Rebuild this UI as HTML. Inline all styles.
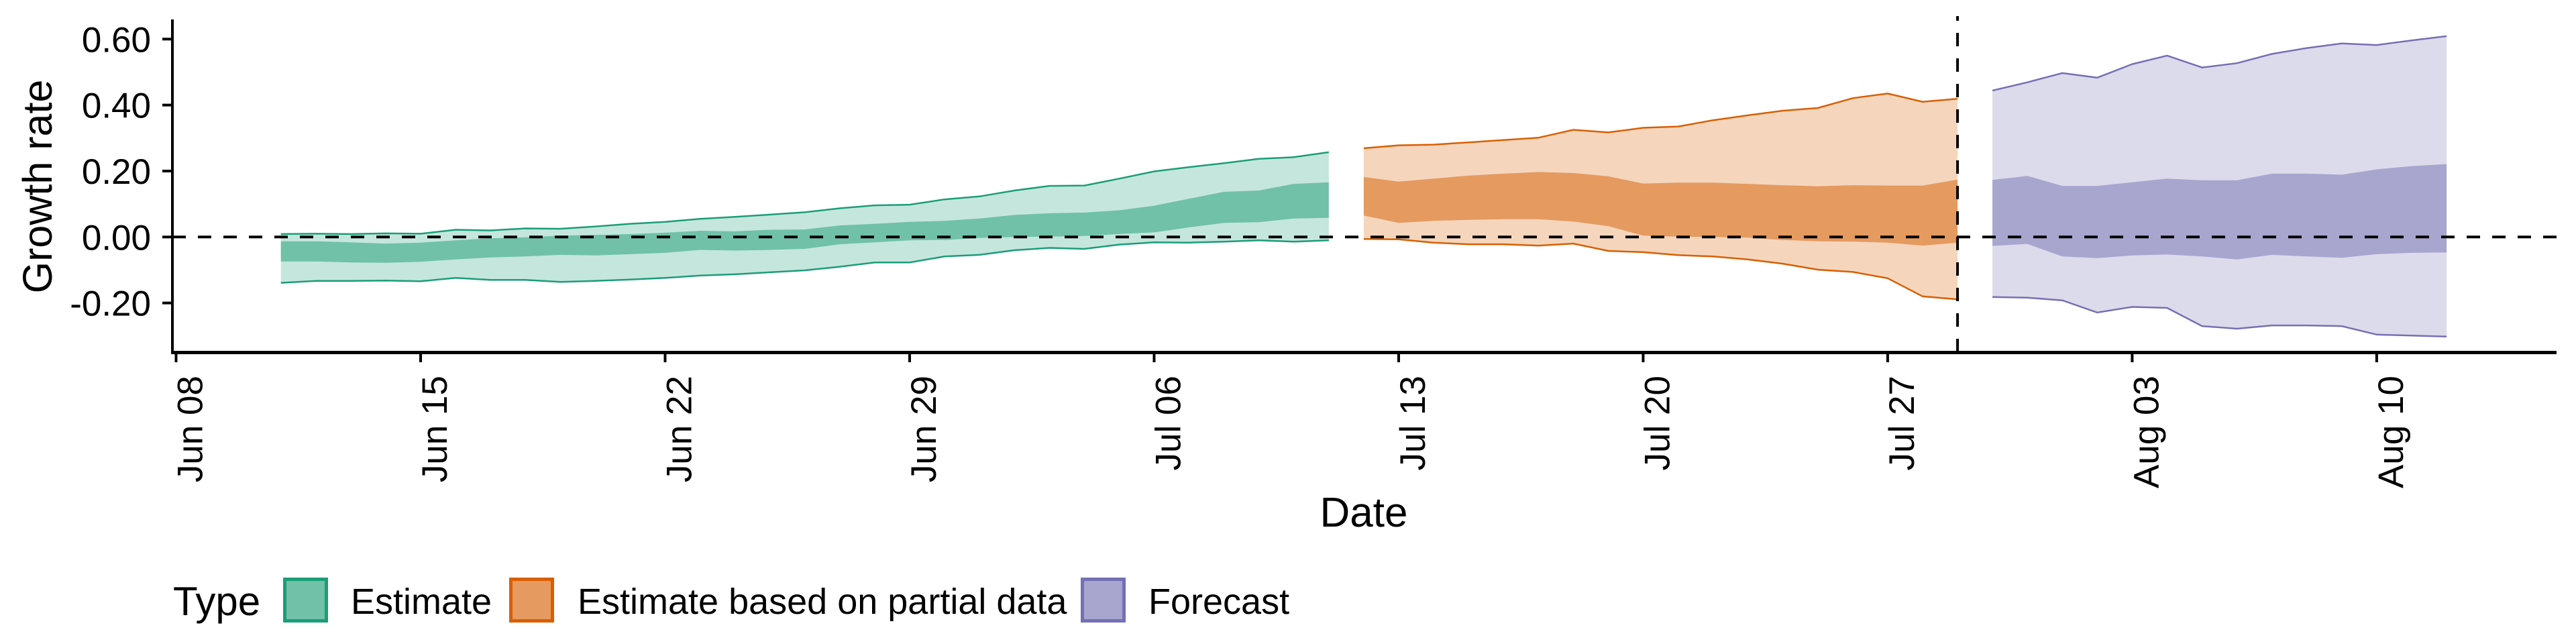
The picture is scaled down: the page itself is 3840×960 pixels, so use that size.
<!DOCTYPE html>
<html><head><meta charset="utf-8"><style>
html,body{margin:0;padding:0;background:#fff;}
svg{display:block;font-family:"Liberation Sans",Arial,sans-serif;}
</style></head><body>
<svg id="chart" width="3840" height="960" viewBox="0 0 3840 960">
<g id="bands"></g>
<g id="axes"></g>
</svg>
<script>
// ---- data ----
const startDate = "2020-06-08";
const xTickLabels = ["Jun 08","Jun 15","Jun 22","Jun 29","Jul 06","Jul 13","Jul 20","Jul 27","Aug 03","Aug 10"];
const xTickDays = [0,7,14,21,28,35,42,49,56,63];
const yTickValues = [-0.2,0,0.2,0.4,0.6];
const yTickLabels = ["-0.20","0.00","0.20","0.40","0.60"];
const forecastCutDay = 51;

const estStartDay = 3;
const estUpper90 = [0.009,0.010,0.009,0.011,0.010,0.022,0.020,0.026,0.025,0.032,0.040,0.046,0.055,0.061,0.068,0.075,0.087,0.096,0.098,0.114,0.123,0.141,0.155,0.156,0.177,0.199,0.212,0.224,0.237,0.242,0.257];
const estUpper50 = [-0.013,-0.013,-0.016,-0.020,-0.017,-0.010,-0.004,-0.001,0.004,0.006,0.009,0.013,0.019,0.017,0.022,0.023,0.035,0.040,0.046,0.049,0.056,0.067,0.072,0.074,0.081,0.095,0.116,0.137,0.141,0.161,0.166];
const estLower50 = [-0.074,-0.074,-0.077,-0.078,-0.075,-0.068,-0.062,-0.059,-0.054,-0.056,-0.052,-0.048,-0.039,-0.041,-0.039,-0.036,-0.022,-0.016,-0.010,-0.009,-0.003,0.000,0.001,0.003,0.009,0.014,0.029,0.043,0.045,0.056,0.058];
const estLower90 = [-0.139,-0.133,-0.133,-0.132,-0.134,-0.124,-0.130,-0.130,-0.136,-0.133,-0.129,-0.124,-0.117,-0.113,-0.107,-0.101,-0.090,-0.077,-0.077,-0.059,-0.054,-0.040,-0.033,-0.036,-0.023,-0.016,-0.017,-0.014,-0.010,-0.014,-0.010];

const partStartDay = 34;
const partUpper90 = [0.269,0.278,0.280,0.287,0.294,0.301,0.325,0.317,0.331,0.335,0.354,0.369,0.383,0.391,0.421,0.435,0.410,0.419];
const partUpper50 = [0.182,0.168,0.177,0.186,0.192,0.197,0.194,0.184,0.162,0.165,0.165,0.161,0.157,0.154,0.157,0.156,0.156,0.174];
const partLower50 = [0.065,0.043,0.049,0.052,0.054,0.054,0.047,0.033,0.004,0.001,0.000,-0.002,-0.009,-0.013,-0.014,-0.017,-0.026,-0.017];
const partLower90 = [-0.006,-0.007,-0.017,-0.022,-0.022,-0.026,-0.020,-0.042,-0.046,-0.055,-0.059,-0.068,-0.081,-0.099,-0.106,-0.125,-0.180,-0.189];

const fcStartDay = 52;
const fcUpper90 = [0.444,0.469,0.497,0.483,0.524,0.550,0.514,0.527,0.555,0.573,0.587,0.582,0.596,0.609];
const fcUpper50 = [0.173,0.185,0.155,0.155,0.166,0.177,0.172,0.172,0.192,0.192,0.189,0.205,0.215,0.221];
const fcLower50 = [-0.027,-0.021,-0.059,-0.064,-0.056,-0.053,-0.059,-0.068,-0.054,-0.059,-0.063,-0.052,-0.048,-0.047];
const fcLower90 = [-0.182,-0.184,-0.192,-0.229,-0.212,-0.215,-0.270,-0.278,-0.268,-0.268,-0.270,-0.296,-0.299,-0.302];

// ---- scales ----
const X0 = 262.5, DAY = 52.07;
const Y0 = 353.3, YPX = 491.7;
function xScale(d){ return X0 + d*DAY; }
function yScale(v){ return Y0 - v*YPX; }
const NS = "http://www.w3.org/2000/svg";
function mk(tag, parent){ const e=document.createElementNS(NS,tag); parent.appendChild(e); return e; }

const bands = document.getElementById('bands');
const axes = document.getElementById('axes');

function drawSeries(name, start, u90, u50, l50, l90, light, dark, line){
  const g = mk('g', bands);
  
  
  const pts = (arr)=>arr.map((v,i)=>xScale(start+i).toFixed(1)+','+yScale(v).toFixed(1));
  const band90 = mk('polygon', g);
  
  
  band90.setAttribute('points', pts(u90).concat(pts(l90).reverse()).join(' '));
  band90.setAttribute('fill', light);
  const band50 = mk('polygon', g);
  
  
  band50.setAttribute('points', pts(u50).concat(pts(l50).reverse()).join(' '));
  band50.setAttribute('fill', dark);
  const up = mk('polyline', g);
  
  
  up.setAttribute('points', pts(u90).join(' '));
  up.setAttribute('fill','none'); up.setAttribute('stroke', line); up.setAttribute('stroke-width','2.5');
  const lo = mk('polyline', g);
  
  
  lo.setAttribute('points', pts(l90).join(' '));
  lo.setAttribute('fill','none'); lo.setAttribute('stroke', line); lo.setAttribute('stroke-width','2.5');
}
drawSeries('estimate', estStartDay, estUpper90, estUpper50, estLower50, estLower90, '#c5e6dd', '#70c1a8', '#1b9e77');
drawSeries('partial-estimate', partStartDay, partUpper90, partUpper50, partLower50, partLower90, '#f5d6bd', '#e59a60', '#d95f02');
drawSeries('forecast', fcStartDay, fcUpper90, fcUpper50, fcLower50, fcLower90, '#dcdbeb', '#a8a5cf', '#7570b3');

// zero line
const zl = mk('line', axes);


zl.setAttribute('x1', 257); zl.setAttribute('x2', 3811);
zl.setAttribute('y1', yScale(0)); zl.setAttribute('y2', yScale(0));
zl.setAttribute('stroke','#000'); zl.setAttribute('stroke-width','4'); zl.setAttribute('stroke-dasharray','20 18');

// forecast cut line
const vl = mk('line', axes);


vl.setAttribute('x1', xScale(forecastCutDay)); vl.setAttribute('x2', xScale(forecastCutDay));
vl.setAttribute('y1', 525); vl.setAttribute('y2', 24);
vl.setAttribute('stroke','#000'); vl.setAttribute('stroke-width','4'); vl.setAttribute('stroke-dasharray','20 18');

// axis lines
const ya = mk('line', axes);


ya.setAttribute('x1',257); ya.setAttribute('x2',257); ya.setAttribute('y1',29); ya.setAttribute('y2',527);
ya.setAttribute('stroke','#000'); ya.setAttribute('stroke-width','4');
const xa = mk('line', axes);


xa.setAttribute('x1',255); xa.setAttribute('x2',3811); xa.setAttribute('y1',525.5); xa.setAttribute('y2',525.5);
xa.setAttribute('stroke','#000'); xa.setAttribute('stroke-width','5');

// y ticks
yTickValues.forEach((v,i)=>{
  const t = mk('line', axes);
  
  
  t.setAttribute('x1',242); t.setAttribute('x2',257); t.setAttribute('y1',yScale(v)); t.setAttribute('y2',yScale(v));
  t.setAttribute('stroke','#000'); t.setAttribute('stroke-width','4');
  const l = mk('text', axes);
  
  
  l.setAttribute('x',225); l.setAttribute('y',yScale(v)+19);
  l.setAttribute('text-anchor','end'); l.setAttribute('font-size','53');
  l.textContent = yTickLabels[i];
});
// x ticks
xTickDays.forEach((d,i)=>{
  const x = xScale(d);
  const t = mk('line', axes);
  
  
  t.setAttribute('x1',x); t.setAttribute('x2',x); t.setAttribute('y1',525); t.setAttribute('y2',540);
  t.setAttribute('stroke','#000'); t.setAttribute('stroke-width','4');
  const l = mk('text', axes);
  
  
  l.setAttribute('transform','translate('+(x+39)+',560) rotate(-90)');
  l.setAttribute('text-anchor','end'); l.setAttribute('font-size','53');
  l.textContent = xTickLabels[i];
});
</script>
<svg width="0" height="0"></svg>
<script>
(function(){
  const svg = document.getElementById('chart');
  const NS="http://www.w3.org/2000/svg";
  function txt(s,x,y,size,name,extra){
    const t=document.createElementNS(NS,'text'); svg.appendChild(t);
    
    
    t.setAttribute('x',x); t.setAttribute('y',y); t.setAttribute('font-size',size);
    if(extra) for(const k in extra) t.setAttribute(k,extra[k]);
    t.textContent=s; return t;
  }
  const yt = txt('Growth rate',0,0,61,'y-axis-title',{'text-anchor':'middle','transform':'translate(77,278) rotate(-90)'});
  const xt = txt('Date',2033,785,62,'x-axis-title',{'text-anchor':'middle'});
  txt('Type',258,917,60,'legend-title');
  function key(x,fill,stroke,name){
    const r=document.createElementNS(NS,'rect'); svg.appendChild(r);
    
    
    r.setAttribute('x',x+2.5); r.setAttribute('y',863.5); r.setAttribute('width',62); r.setAttribute('height',62);
    r.setAttribute('fill',fill); r.setAttribute('stroke',stroke); r.setAttribute('stroke-width','5');
  }
  key(422,'#70c1a8','#1b9e77','legend-key-estimate');
  txt('Estimate',523,915,54,'legend-label-estimate');
  key(759,'#e59a60','#d95f02','legend-key-partial');
  txt('Estimate based on partial data',861,915,54,'legend-label-partial');
  key(1611,'#a8a5cf','#7570b3','legend-key-forecast');
  txt('Forecast',1712,915,54,'legend-label-forecast');
})();
</script>
</body></html>
